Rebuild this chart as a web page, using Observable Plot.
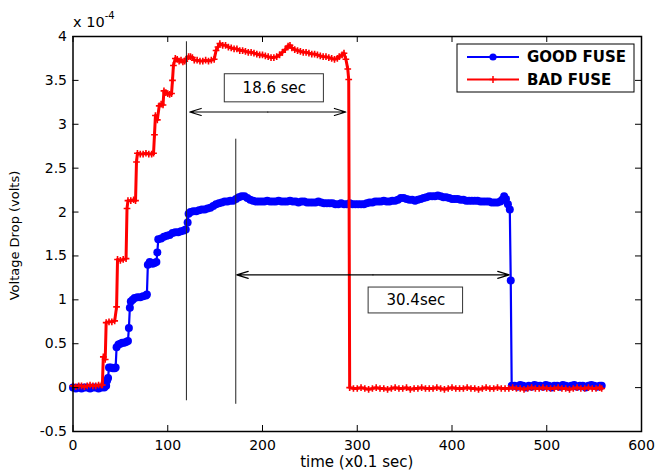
<!DOCTYPE html>
<html>
<head>
<meta charset="utf-8">
<script src="https://cdn.jsdelivr.net/npm/d3@7"></script>
<script src="https://cdn.jsdelivr.net/npm/@observablehq/plot@0.6"></script>
<style>
  html, body { margin: 0; padding: 0; background: #fff; }
  #chart { position: relative; width: 656px; height: 472px; }
</style>
</head>
<body>
<div id="chart"></div>
<script>
// Axis ticks (voltage in units of 1e-4 V, time in 0.1 s steps)
const xTicks = [0, 100, 200, 300, 400, 500, 600];
const yTicks = [-0.5, 0, 0.5, 1, 1.5, 2, 2.5, 3, 3.5, 4];

const seriesNames = ["GOOD FUSE", "BAD FUSE"];
const seriesColors = ["#0000ff", "#ff0000"];

// [time, voltage drop x1e-4]
const goodFuse = [
  [0,0.00],[3,-0.01],[6,0.00],[9,-0.01],[12,0.00],[15,0.00],[18,-0.01],[21,0.00],[24,0.00],[27,-0.01],
  [30,0.00],[33,0.00],[35,0.02],[36,0.08],[37,0.11],[38,0.23],[40,0.23],[42,0.22],[44,0.22],[45,0.23],
  [46,0.46],[48,0.49],[50,0.50],[52,0.51],[54,0.51],[56,0.52],[58,0.53],[59,0.68],[60,0.91],[61,0.98],
  [63,1.00],[65,1.02],[68,1.03],[71,1.03],[74,1.04],[77,1.05],[78,1.06],[79,1.40],[81,1.43],[84,1.41],
  [86,1.42],[88,1.43],[89,1.54],[90,1.69],[93,1.70],[96,1.72],[99,1.73],[102,1.74],[105,1.76],[108,1.77],
  [111,1.77],[114,1.78],[117,1.79],[119,1.80],[121,1.88],[122,1.98],[124,2.00],[127,2.01],[130,2.01],[133,2.02],
  [136,2.03],[139,2.03],[142,2.04],[145,2.05],[148,2.07],[151,2.09],[154,2.10],[157,2.11],[160,2.12],[163,2.12],
  [166,2.13],[169,2.13],[172,2.15],[175,2.17],[178,2.18],[181,2.18],[184,2.16],[187,2.14],[190,2.13],[193,2.12],
  [196,2.12],[199,2.12],[202,2.12],[205,2.13],[208,2.12],[211,2.12],[214,2.12],[217,2.13],[220,2.12],[223,2.12],
  [226,2.12],[229,2.13],[232,2.12],[235,2.12],[238,2.11],[241,2.12],[244,2.12],[247,2.11],[250,2.11],[253,2.11],
  [256,2.11],[259,2.12],[262,2.11],[265,2.10],[268,2.10],[271,2.10],[274,2.10],[277,2.09],[280,2.09],[283,2.10],
  [286,2.09],[289,2.09],[292,2.10],[295,2.09],[298,2.09],[301,2.09],[304,2.09],[307,2.09],[310,2.10],[313,2.11],
  [316,2.11],[319,2.12],[322,2.12],[325,2.12],[328,2.13],[331,2.12],[334,2.12],[337,2.13],[340,2.13],[343,2.14],
  [346,2.16],[349,2.16],[352,2.15],[355,2.14],[358,2.14],[361,2.13],[364,2.14],[367,2.15],[370,2.16],[373,2.17],
  [376,2.18],[379,2.18],[382,2.18],[385,2.19],[388,2.18],[391,2.17],[394,2.17],[397,2.16],[400,2.15],[403,2.15],
  [406,2.15],[409,2.14],[412,2.14],[415,2.13],[418,2.13],[421,2.13],[424,2.13],[427,2.13],[430,2.12],[433,2.12],
  [436,2.12],[439,2.12],[442,2.11],[445,2.11],[448,2.11],[451,2.12],[453,2.14],[455,2.18],[457,2.15],[459,2.09],
  [461,2.03],[462,1.22],[463,0.02],[466,0.02],[469,0.01],[472,0.03],[475,0.02],[478,0.00],[481,0.02],[484,0.01],
  [487,0.03],[490,0.02],[493,0.02],[496,0.01],[499,0.03],[502,0.02],[505,0.00],[508,0.02],[511,0.02],[514,0.01],
  [517,0.03],[520,0.02],[523,0.01],[526,0.02],[529,0.03],[532,0.01],[535,0.02],[538,0.02],[541,0.00],[544,0.02],
  [547,0.03],[550,0.02],[553,0.01],[556,0.02],[558,0.02]
];

const badFuse = [
  [0,0.02],[3,0.01],[6,0.02],[9,0.02],[12,0.01],[15,0.02],[18,0.03],[21,0.02],[24,0.02],[27,0.03],
  [30,0.03],[31,0.03],[32,0.35],[34,0.32],[35,0.74],[38,0.75],[41,0.75],[44,0.76],[46,0.92],[47,1.46],
  [50,1.45],[53,1.46],[56,1.47],[57,2.04],[58,2.13],[61,2.13],[64,2.14],[66,2.13],[67,2.57],[68,2.67],
  [71,2.66],[74,2.66],[77,2.67],[80,2.66],[83,2.66],[85,2.67],[86,2.88],[87,3.10],[89,3.05],[91,3.21],
  [93,3.23],[95,3.22],[96,3.38],[98,3.36],[100,3.35],[102,3.34],[104,3.35],[105,3.50],[106,3.67],[108,3.75],
  [110,3.74],[112,3.72],[114,3.73],[116,3.71],[118,3.72],[120,3.75],[122,3.77],[124,3.77],[126,3.76],[128,3.73],
  [131,3.73],[134,3.72],[137,3.72],[140,3.73],[143,3.72],[146,3.73],[149,3.74],[151,3.84],[153,3.88],[155,3.92],
  [158,3.90],[161,3.90],[164,3.88],[167,3.87],[170,3.86],[173,3.86],[176,3.84],[179,3.84],[182,3.83],[185,3.82],
  [188,3.82],[191,3.81],[194,3.80],[197,3.79],[200,3.79],[203,3.78],[206,3.77],[209,3.76],[212,3.76],[215,3.77],
  [218,3.79],[221,3.82],[224,3.85],[227,3.89],[229,3.90],[231,3.87],[234,3.85],[237,3.84],[240,3.83],[243,3.82],
  [246,3.82],[249,3.81],[252,3.80],[255,3.80],[258,3.79],[261,3.78],[264,3.77],[267,3.77],[270,3.76],[273,3.75],
  [276,3.74],[279,3.75],[281,3.77],[284,3.79],[286,3.81],[288,3.74],[290,3.63],[291,3.51],[292,0.00],[296,-0.01],
  [300,-0.01],[304,0.00],[308,-0.01],[312,-0.02],[316,-0.01],[320,0.00],[324,-0.01],[328,-0.01],[332,-0.02],[336,-0.01],
  [340,0.00],[344,-0.01],[348,-0.01],[352,0.00],[356,-0.02],[360,-0.01],[364,-0.01],[368,0.00],[372,-0.01],[376,-0.01],
  [380,-0.01],[384,0.00],[388,-0.01],[392,-0.02],[396,-0.01],[400,0.00],[404,-0.01],[408,-0.01],[412,-0.01],[416,0.00],
  [420,-0.01],[424,-0.01],[428,-0.02],[432,-0.01],[436,0.00],[440,-0.01],[444,-0.01],[448,0.00],[452,-0.01],[456,-0.01],
  [460,-0.01],[464,0.00],[468,-0.01],[472,-0.01],[476,-0.02],[480,-0.01],[484,0.00],[488,-0.01],[492,-0.01],[496,0.00],
  [500,-0.01],[504,-0.01],[508,-0.01],[512,0.00],[516,-0.01],[520,-0.01],[524,-0.02],[528,-0.01],[532,0.00],[536,-0.01],
  [540,-0.01],[544,0.00],[548,-0.01],[552,-0.01],[556,0.00],[558,-0.01]
];

// Timing annotations: vertical guides, double-headed spans and their labels
const guideX      = [119.7, 171.8];
const guideTop    = [3.94, 2.83];
const guideBottom = [-0.15, -0.19];
const spanStart   = [123.2, 172.8];
const spanEnd     = [288, 460.4];
const spanLevel   = [3.14, 1.285];
const spanLabels  = ["18.6 sec", "30.4sec"];
const boxLeft     = [160.2, 312];
const boxRight    = [264.8, 411.7];
const boxTop      = [3.57, 1.14];
const boxBottom   = [3.25, 0.845];

const W = 656, H = 472;
const mL = 72.5, mR = 15, mT = 36, mB = 41;
const plotW = W - mL - mR, plotH = H - mT - mB;
const FONT = "'DejaVu Sans', sans-serif";

const good = goodFuse.map(([t, v]) => ({t, v}));
const bad = badFuse.map(([t, v]) => ({t, v}));
const guides = guideX.map((x, i) => ({x, y1: guideBottom[i], y2: guideTop[i]}));
const arrows = spanStart.flatMap((s, i) => {
  const mid = (s + spanEnd[i]) / 2;
  return [
    {x1: mid, x2: s, y: spanLevel[i]},
    {x1: mid, x2: spanEnd[i], y: spanLevel[i]}
  ];
});
const boxes = spanLabels.map((label, i) => ({
  label, x1: boxLeft[i], x2: boxRight[i], y1: boxBottom[i], y2: boxTop[i]
}));
const fmt = d => String(d);

const chart = Plot.plot({
  width: W, height: H,
  marginLeft: mL, marginRight: mR, marginTop: mT, marginBottom: mB,
  style: {fontFamily: FONT, fontSize: "14px", color: "#000", background: "#fff", overflow: "visible"},
  x: {domain: [0, 600], label: null},
  y: {domain: [-0.5, 4], label: null},
  marks: [
    Plot.axisX({ticks: xTicks, tickSize: 0, tickPadding: 9, tickFormat: fmt, label: null, fontSize: 14}),
    Plot.axisY({ticks: yTicks, tickSize: 0, tickPadding: 6, tickFormat: fmt, label: null, fontSize: 14}),
    Plot.line(good, {x: "t", y: "v", stroke: seriesColors[0], strokeWidth: 2.2}),
    Plot.dot(good, {x: "t", y: "v", r: 4, fill: seriesColors[0], stroke: "none"}),
    Plot.line(bad, {x: "t", y: "v", stroke: seriesColors[1], strokeWidth: 3}),
    Plot.dot(bad, {x: "t", y: "v", symbol: "plus", r: 2.3, stroke: seriesColors[1], strokeWidth: 1.6, fill: "none"}),
    Plot.ruleX(guides, {x: "x", y1: "y1", y2: "y2", stroke: "#222", strokeWidth: 1}),
    Plot.arrow(arrows, {x1: "x1", x2: "x2", y1: "y", y2: "y", stroke: "#000", strokeWidth: 1.2, headLength: 15, headAngle: 34}),
    Plot.rect(boxes, {x1: "x1", x2: "x2", y1: "y1", y2: "y2", fill: "#fff", stroke: "#333", strokeWidth: 1}),
    Plot.text(boxes, {x: d => (d.x1 + d.x2) / 2, y: d => (d.y1 + d.y2) / 2, text: "label", fontSize: 15, fill: "#000"}),
    // inward ticks on all four sides
    Plot.ruleX(xTicks, {insetTop: plotH - 6, stroke: "#000"}),
    Plot.ruleX(xTicks, {insetBottom: plotH - 6, stroke: "#000"}),
    Plot.ruleY(yTicks, {insetRight: plotW - 6, stroke: "#000"}),
    Plot.ruleY(yTicks, {insetLeft: plotW - 6, stroke: "#000"}),
    Plot.frame({stroke: "#000", strokeWidth: 1.5})
  ]
});

const svg = d3.select(chart);

// axis titles and the exponent note
svg.append("text")
  .attr("x", mL + plotW / 2).attr("y", 467)
  .attr("text-anchor", "middle").attr("font-family", FONT).attr("font-size", 15)
  .text("time (x0.1 sec)");
svg.append("text")
  .attr("transform", `translate(19,${mT + plotH / 2 + 2}) rotate(-90)`)
  .attr("text-anchor", "middle").attr("font-family", FONT).attr("font-size", 13)
  .text("Voltage Drop (volts)");
const expo = svg.append("text")
  .attr("x", 73).attr("y", 27).attr("text-anchor", "start")
  .attr("font-family", FONT).attr("font-size", 14.5);
expo.append("tspan").text("x 10");
expo.append("tspan").attr("dy", -8).attr("font-size", 10).text("-4");

// legend
const lg = svg.append("g").attr("font-family", FONT).attr("text-anchor", "start");
lg.append("rect").attr("x", 457).attr("y", 44).attr("width", 177).attr("height", 48)
  .attr("fill", "#fff").attr("stroke", "#000").attr("stroke-width", 1);
seriesNames.forEach((name, i) => {
  const y = 57 + i * 22.5;
  lg.append("line").attr("x1", 467).attr("x2", 519).attr("y1", y).attr("y2", y)
    .attr("stroke", seriesColors[i]).attr("stroke-width", 2);
  if (i === 0) {
    lg.append("circle").attr("cx", 493).attr("cy", y).attr("r", 3.6).attr("fill", seriesColors[i]);
  } else {
    lg.append("path").attr("d", `M489.5,${y}H496.5M493,${y - 3.5}V${y + 3.5}`)
      .attr("stroke", seriesColors[i]).attr("stroke-width", 1.5);
  }
  lg.append("text").attr("x", 527).attr("y", y + 5.3)
    .attr("font-size", 15).attr("font-weight", "bold").text(name);
});

document.getElementById("chart").appendChild(chart);
</script>
</body>
</html>
